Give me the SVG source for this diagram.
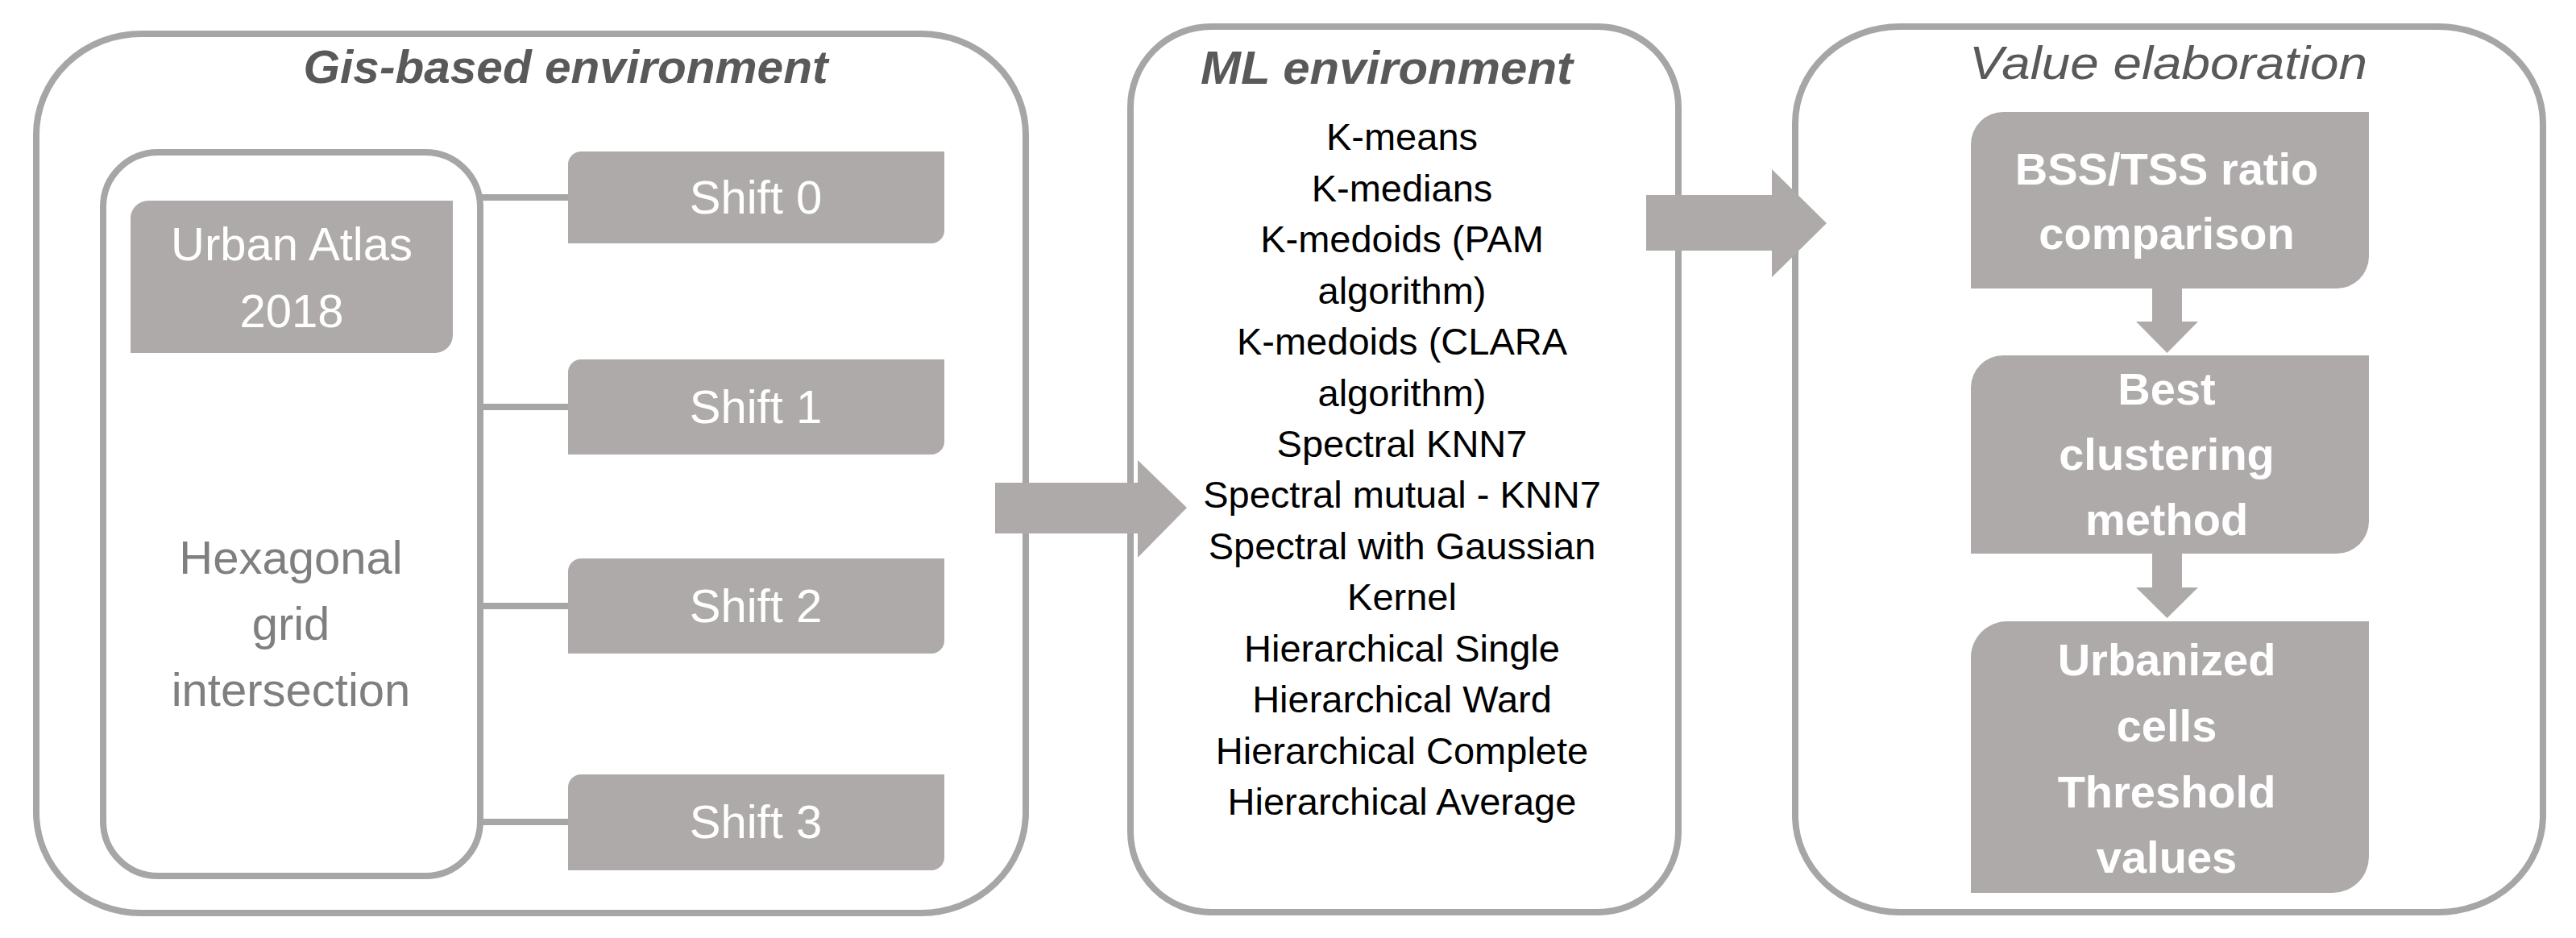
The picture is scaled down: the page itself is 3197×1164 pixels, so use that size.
<svg xmlns="http://www.w3.org/2000/svg" width="3197" height="1164" viewBox="0 0 3197 1164">
<defs>
<style>
.frame{fill:#ffffff;stroke:#a6a6a6;stroke-width:8}
.box{fill:#aeaaaa}
.conn{stroke:#a6a6a6;stroke-width:8;fill:none}
.arrow{fill:#aeaaaa}
.title{font-family:"Liberation Sans",Arial,sans-serif;font-style:italic;fill:#595959;text-anchor:middle}
.wt{font-family:"Liberation Sans",Arial,sans-serif;fill:#ffffff;text-anchor:middle;font-size:58px}
.gt{font-family:"Liberation Sans",Arial,sans-serif;fill:#7f7f7f;text-anchor:middle;font-size:58px}
.ml{font-family:"Liberation Sans",Arial,sans-serif;fill:#000000;text-anchor:middle;font-size:47px}
.bt{font-family:"Liberation Sans",Arial,sans-serif;fill:#ffffff;text-anchor:middle;font-size:56px;font-weight:bold}
</style>
</defs>
<rect width="3197" height="1164" fill="#ffffff"/>

<g id="gis-environment">
<rect class="frame" x="45" y="42" width="1228" height="1091" rx="130" ry="125"/>
<text class="title" x="702" y="103" font-size="57" font-weight="bold" textLength="651" lengthAdjust="spacingAndGlyphs">Gis-based environment</text>
</g>

<g id="hexagonal-grid">
<rect class="frame" x="128" y="189" width="468" height="898" rx="68" ry="68"/>
<text class="gt" x="361" y="712">Hexagonal</text>
<text class="gt" x="361" y="794">grid</text>
<text class="gt" x="361" y="876">intersection</text>
</g>

<g id="urban-atlas">
<path class="box" d="M184,249 H562 V416 A22,22 0 0 1 540,438 H162 V271 A22,22 0 0 1 184,249 Z"/>
<text class="wt" x="362" y="323">Urban Atlas</text>
<text class="wt" x="362" y="406">2018</text>
</g>

<g id="shift-0">
<path class="box" d="M721,188 H1172 V286 A16,16 0 0 1 1156,302 H705 V204 A16,16 0 0 1 721,188 Z"/>
<text class="wt" x="938" y="265">Shift 0</text>
</g>
<g id="shift-1">
<path class="box" d="M721,446 H1172 V548 A16,16 0 0 1 1156,564 H705 V462 A16,16 0 0 1 721,446 Z"/>
<text class="wt" x="938" y="525">Shift 1</text>
</g>
<g id="shift-2">
<path class="box" d="M721,693 H1172 V795 A16,16 0 0 1 1156,811 H705 V709 A16,16 0 0 1 721,693 Z"/>
<text class="wt" x="938" y="772">Shift 2</text>
</g>
<g id="shift-3">
<path class="box" d="M721,961 H1172 V1064 A16,16 0 0 1 1156,1080 H705 V977 A16,16 0 0 1 721,961 Z"/>
<text class="wt" x="938" y="1040">Shift 3</text>
</g>

<g id="ml-environment">
<rect class="frame" x="1403" y="33" width="680" height="1099" rx="100" ry="100"/>
<text class="title" x="1721" y="104" font-size="57" font-weight="bold" textLength="462" lengthAdjust="spacingAndGlyphs">ML environment</text>
<text class="ml" x="1740" y="186">K-means</text>
<text class="ml" x="1740" y="250">K-medians</text>
<text class="ml" x="1740" y="313">K-medoids (PAM</text>
<text class="ml" x="1740" y="377">algorithm)</text>
<text class="ml" x="1740" y="440">K-medoids (CLARA</text>
<text class="ml" x="1740" y="504">algorithm)</text>
<text class="ml" x="1740" y="567">Spectral KNN7</text>
<text class="ml" x="1740" y="630">Spectral mutual  - KNN7</text>
<text class="ml" x="1740" y="694">Spectral with Gaussian</text>
<text class="ml" x="1740" y="757">Kernel</text>
<text class="ml" x="1740" y="821">Hierarchical Single</text>
<text class="ml" x="1740" y="884">Hierarchical Ward</text>
<text class="ml" x="1740" y="948">Hierarchical Complete</text>
<text class="ml" x="1740" y="1011">Hierarchical Average</text>
</g>

<g id="value-elaboration">
<rect class="frame" x="2228" y="33" width="928" height="1099" rx="130" ry="120"/>
<text class="title" x="2691" y="98" font-size="58" textLength="494" lengthAdjust="spacingAndGlyphs">Value elaboration</text>
</g>

<g id="bss-tss">
<path class="box" d="M2486,139 H2940 V318 A40,40 0 0 1 2900,358 H2446 V179 A40,40 0 0 1 2486,139 Z"/>
<text class="bt" x="2689" y="229">BSS/TSS ratio</text>
<text class="bt" x="2689" y="309">comparison</text>
</g>

<g id="best-method">
<path class="box" d="M2486,441 H2940 V647 A40,40 0 0 1 2900,687 H2446 V481 A40,40 0 0 1 2486,441 Z"/>
<text class="bt" x="2689" y="502">Best</text>
<text class="bt" x="2689" y="583">clustering</text>
<text class="bt" x="2689" y="664">method</text>
</g>

<g id="urbanized-threshold">
<path class="box" d="M2491,771 H2940 V1063 A45,45 0 0 1 2895,1108 H2446 V816 A45,45 0 0 1 2491,771 Z"/>
<text class="bt" x="2689" y="838">Urbanized</text>
<text class="bt" x="2689" y="920">cells</text>
<text class="bt" x="2689" y="1002">Threshold</text>
<text class="bt" x="2689" y="1083">values</text>
</g>

<g id="connectors">
<line class="conn" x1="596" y1="245" x2="705" y2="245"/>
<line class="conn" x1="596" y1="505" x2="705" y2="505"/>
<line class="conn" x1="596" y1="752" x2="705" y2="752"/>
<line class="conn" x1="596" y1="1020" x2="705" y2="1020"/>
<polygon class="arrow" points="1235,599 1412,599 1412,571 1473,630 1412,692 1412,662 1235,662"/>
<polygon class="arrow" points="2043,242 2199,242 2199,210 2267,277 2199,344 2199,311 2043,311"/>
<polygon class="arrow" points="2671,358 2708,358 2708,399 2728,399 2689.5,438 2651,399 2671,399"/>
<polygon class="arrow" points="2671,687 2708,687 2708,729 2728,729 2689.5,767 2651,729 2671,729"/>
</g>
</svg>
